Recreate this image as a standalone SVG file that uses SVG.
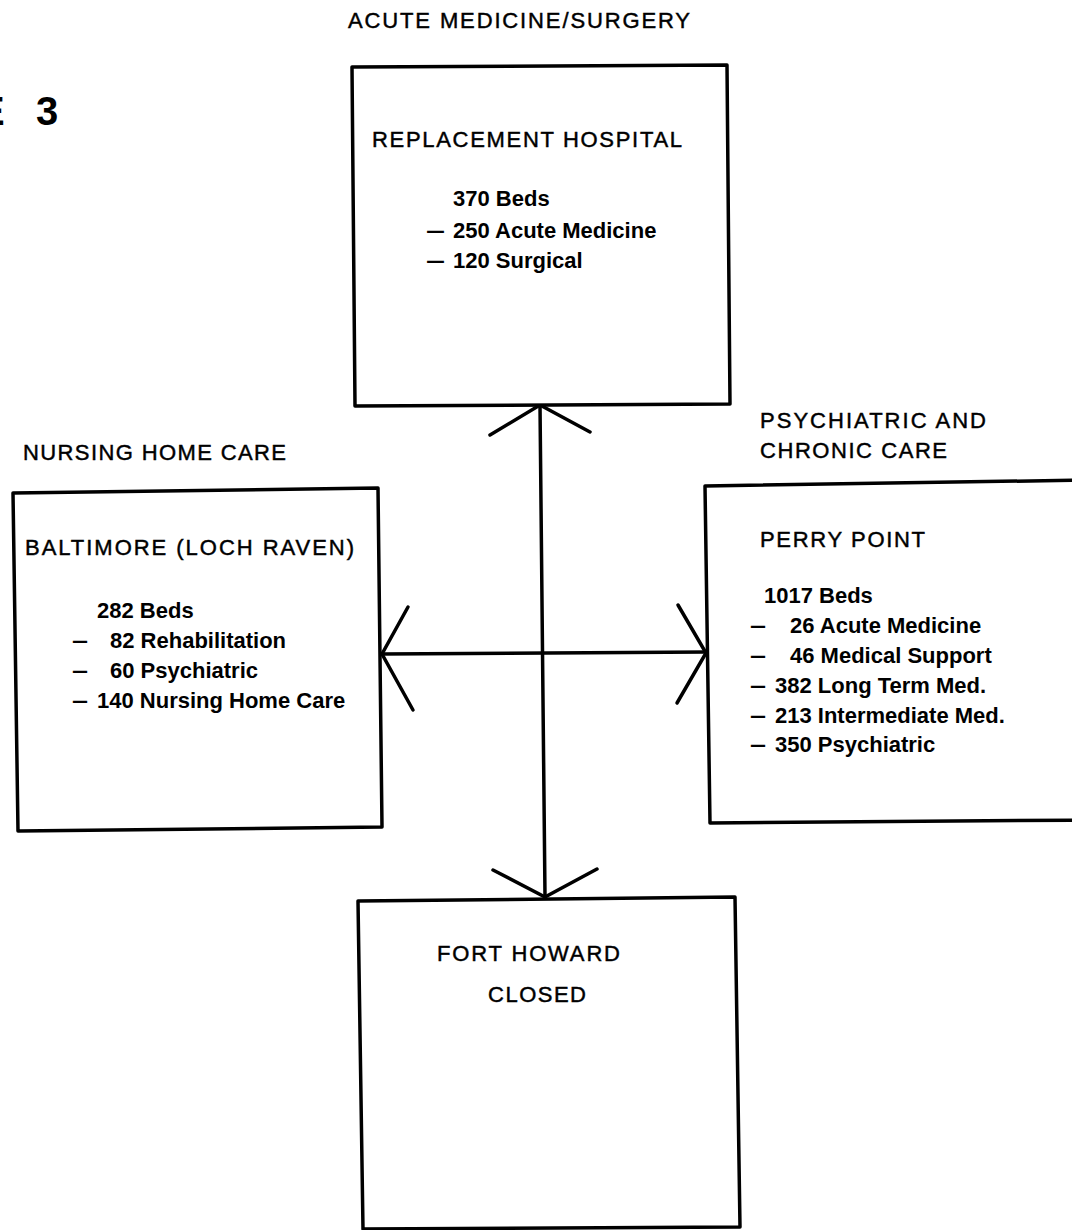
<svg xmlns="http://www.w3.org/2000/svg" width="1072" height="1230" viewBox="0 0 1072 1230">
<style>
.box{fill:#fff;stroke:#000;stroke-width:3.5;stroke-linejoin:round}
.ln{fill:none;stroke:#000;stroke-width:3.5;stroke-linecap:round}
.hd{font-family:"Liberation Sans",Arial,sans-serif;font-size:22px;fill:#000;stroke:#000;stroke-width:0.45}
.bd{font-family:"Liberation Sans",Arial,sans-serif;font-size:22px;font-weight:bold;fill:#000}
.fig{font-family:"Liberation Sans",Arial,sans-serif;font-size:40px;font-weight:bold;fill:#000}
</style>
<rect width="1072" height="1230" fill="#fff"/>
<text class="fig" y="125"><tspan x="-22">E</tspan><tspan x="36">3</tspan></text>

<g id="connectors">
<path class="ln" d="M540 405 L545 896"/>
<path class="ln" d="M382 654 L707 652"/>
<path class="ln" d="M490 435 L540 405 L590 432"/>
<path class="ln" d="M493 870 L545 897 L597 869"/>
<path class="ln" d="M408 607 L382 654 L413 710"/>
<path class="ln" d="M678 605 L706 653 L677 703"/>
</g>

<g id="replacement-hospital">
<text class="hd" x="348" y="28" textLength="342" lengthAdjust="spacing">ACUTE MEDICINE/SURGERY</text>
<path class="box" d="M352 67 L727 65 L730 404 L355 406 Z"/>
<text class="hd" x="372" y="147" textLength="310" lengthAdjust="spacing">REPLACEMENT HOSPITAL</text>
<text class="bd" x="453" y="206">370 Beds</text>
<text class="bd" y="238"><tspan x="426" textLength="19" lengthAdjust="spacingAndGlyphs">–</tspan><tspan x="453">250 Acute Medicine</tspan></text>
<text class="bd" y="268"><tspan x="426" textLength="19" lengthAdjust="spacingAndGlyphs">–</tspan><tspan x="453">120 Surgical</tspan></text>
</g>

<g id="baltimore">
<text class="hd" x="23" y="460" textLength="263" lengthAdjust="spacing">NURSING HOME CARE</text>
<path class="box" d="M13 493 L378 488 L382 827 L18 831 Z"/>
<text class="hd" x="25" y="555" textLength="329" lengthAdjust="spacing">BALTIMORE (LOCH RAVEN)</text>
<text class="bd" x="97" y="618">282 Beds</text>
<text class="bd" y="648"><tspan x="72" textLength="16" lengthAdjust="spacingAndGlyphs">–</tspan><tspan x="110">82 Rehabilitation</tspan></text>
<text class="bd" y="678"><tspan x="72" textLength="16" lengthAdjust="spacingAndGlyphs">–</tspan><tspan x="110">60 Psychiatric</tspan></text>
<text class="bd" y="708"><tspan x="72" textLength="16" lengthAdjust="spacingAndGlyphs">–</tspan><tspan x="97">140 Nursing Home Care</tspan></text>
</g>

<g id="perry-point">
<text class="hd" x="760" y="428" textLength="226" lengthAdjust="spacing">PSYCHIATRIC AND</text>
<text class="hd" x="760" y="458" textLength="187" lengthAdjust="spacing">CHRONIC CARE</text>
<path class="box" d="M1090 480 L705 486 L710 823 L1090 820"/>
<text class="hd" x="760" y="547" textLength="165" lengthAdjust="spacing">PERRY POINT</text>
<text class="bd" x="764" y="603">1017 Beds</text>
<text class="bd" y="633"><tspan x="750" textLength="16" lengthAdjust="spacingAndGlyphs">–</tspan><tspan x="790">26 Acute Medicine</tspan></text>
<text class="bd" y="663"><tspan x="750" textLength="16" lengthAdjust="spacingAndGlyphs">–</tspan><tspan x="790">46 Medical Support</tspan></text>
<text class="bd" y="693"><tspan x="750" textLength="16" lengthAdjust="spacingAndGlyphs">–</tspan><tspan x="775">382 Long Term Med.</tspan></text>
<text class="bd" y="723"><tspan x="750" textLength="16" lengthAdjust="spacingAndGlyphs">–</tspan><tspan x="775">213 Intermediate Med.</tspan></text>
<text class="bd" y="752"><tspan x="750" textLength="16" lengthAdjust="spacingAndGlyphs">–</tspan><tspan x="775">350 Psychiatric</tspan></text>
</g>

<g id="fort-howard">
<path class="box" d="M358 901 L735 897 L740 1227 L363 1229 Z"/>
<text class="hd" x="437" y="961" textLength="183" lengthAdjust="spacing">FORT HOWARD</text>
<text class="hd" x="488" y="1002" textLength="98" lengthAdjust="spacing">CLOSED</text>
</g>
</svg>
